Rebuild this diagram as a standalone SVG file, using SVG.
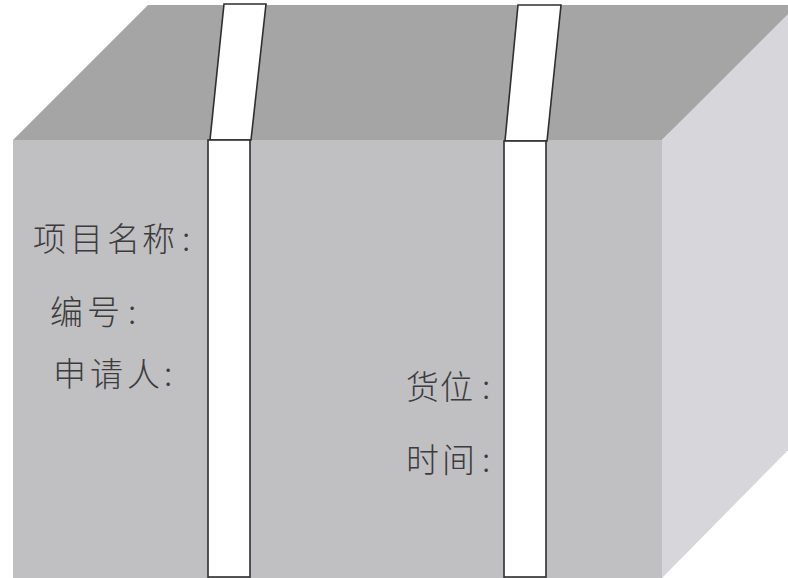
<svg xmlns="http://www.w3.org/2000/svg" width="788" height="578" viewBox="0 0 788 578">
  <style>
    .top { fill: #a5a5a6; }
    .front { fill: #c0c0c3; }
    .side { fill: #d7d7db; }
    .strap { fill: #ffffff; stroke: #2e2e2e; stroke-width: 1.6; stroke-linejoin: miter; }
    .label { font-family: "Noto Sans CJK SC", "Noto Sans", sans-serif; font-size: 33px; fill: #3c3c3c; font-weight: 300; }
  </style>
  <rect x="0" y="0" width="788" height="578" fill="#ffffff"/>

  <!-- carton body -->
  <g id="box">
    <polygon id="box-top" class="top" points="148,5 800,5 662,140 13,140"/>
    <polygon id="box-side" class="side" points="662,140 800,2 800,438 662,578"/>
    <rect id="box-front" class="front" x="13" y="140" width="649" height="438"/>
  </g>

  <!-- packing straps -->
  <g id="strap-left">
    <polygon class="strap" points="224,4 266,4 251,140 210,140"/>
    <rect class="strap" x="208" y="140" width="42" height="437"/>
  </g>
  <g id="strap-right">
    <polygon class="strap" points="518,5 561,5 547,141 505,141"/>
    <rect class="strap" x="504" y="141" width="42" height="436"/>
  </g>

  <!-- label fields -->
  <g id="labels">
    <text class="label" x="33 70 107 142 182" y="251">项目名称:</text>
    <text class="label" x="50 87 128" y="324">编号:</text>
    <text class="label" x="53 90 127 164" y="386">申请人:</text>
    <text class="label" x="406 440 482" y="399">货位:</text>
    <text class="label" x="406 442 482" y="472">时间:</text>
  </g>
</svg>
